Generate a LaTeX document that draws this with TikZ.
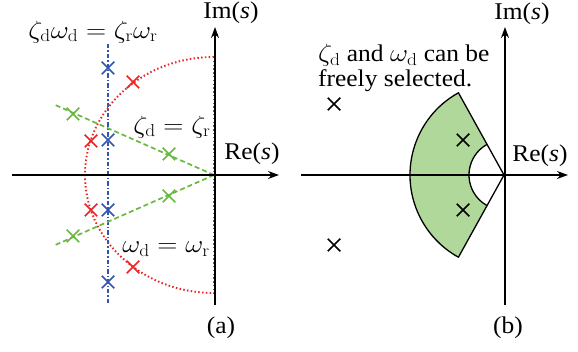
\documentclass[tikz,border=0pt]{standalone}
\usepackage[no-math]{fontspec}
\setmainfont[FakeStretch=1.06]{Liberation Serif}
\usetikzlibrary{arrows.meta,shapes.misc,calc}
\definecolor{cred}{RGB}{235,35,35}
\definecolor{cblue}{RGB}{50,85,175}
\definecolor{cgreen}{RGB}{105,185,65}
\definecolor{cfill}{RGB}{176,216,154}
\newcommand{\mth}[1]{\scalebox{1.12}[1]{\fontsize{24}{24}\selectfont$#1$}}
\begin{document}
\begin{tikzpicture}[x=1pt,y=-1pt,
  font=\fontsize{24}{24}\selectfont,
  xmark/.style={cross out, draw, minimum size=11pt, inner sep=0pt, line width=1.5pt},
  axisline/.style={line width=1.5pt, -{Stealth[length=11pt,width=8pt]}},
  reddot/.style={cred, line width=1.9pt, dash pattern=on 1.5pt off 2.3pt},
  bluedash/.style={cblue, line width=1.3pt, dash pattern=on 4.5pt off 2pt on 1.3pt off 2pt},
  greendash/.style={cgreen, line width=1.7pt, dash pattern=on 5pt off 3pt},
  lbl/.style={inner sep=0pt}]
\useasboundingbox (0,0) rectangle (578,352);
% ---------- panel (a)
\coordinate (O) at (214,175);
\coordinate (rt) at (214,57);
\coordinate (rb) at (214,293);
\draw[reddot] (rt) arc[start angle=90, end angle=270, x radius=129pt, y radius=118pt];
\draw[reddot] (rt) -- (rb);
\coordinate (bt) at (108,44);
\coordinate (bb) at (108,304);
\draw[bluedash] (bt) -- (bb);
\coordinate (g1) at (53,104);
\coordinate (g2) at (53,246);
\draw[greendash] (O) -- (g1);
\draw[greendash] (O) -- (g2);
\coordinate (ax1) at (12,175);
\coordinate (ax2) at (279,175);
\coordinate (ay1) at (215,305);
\coordinate (ay2) at (215,27);
\draw[axisline] (ax1) -- (ax2);
\draw[axisline] (ay1) -- (ay2);
\node[xmark,cred] (r1) at (133,82) {};
\node[xmark,cred] (r2) at (91,141) {};
\node[xmark,cred] (r3) at (91,210) {};
\node[xmark,cred] (r4) at (133,267) {};
\node[xmark,cblue] (b1) at (108,68) {};
\node[xmark,cblue] (b2) at (108,140) {};
\node[xmark,cblue] (b3) at (108,210) {};
\node[xmark,cblue] (b4) at (108,282) {};
\node[xmark,cgreen] (x1) at (73,114) {};
\node[xmark,cgreen] (x2) at (169,154) {};
\node[xmark,cgreen] (x3) at (73,236) {};
\node[xmark,cgreen] (x4) at (169,196) {};
\node[lbl] (la1) at (93,32) {\mth{\zeta_{\mathrm{d}}\omega_{\mathrm{d}} = \zeta_{\mathrm{r}}\omega_{\mathrm{r}}}};
\node[lbl] (la2) at (231,13) {Im(\textit{s})};
\node[lbl] (la3) at (172,127) {\mth{\zeta_{\mathrm{d}} = \zeta_{\mathrm{r}}}};
\node[lbl] (la4) at (252,154) {Re(\textit{s})};
\node[lbl] (la5) at (166,249) {\mth{\omega_{\mathrm{d}} = \omega_{\mathrm{r}}}};
\node[lbl] (la6) at (221,328) {(a)};
% ---------- panel (b)
\coordinate (P) at (504,175);
\fill[cfill] ($(P)+(119:35pt)$) -- ($(P)+(119:94pt)$)
  arc[start angle=119, end angle=241, radius=94pt]
  -- ($(P)+(241:35pt)$) arc[start angle=241, end angle=119, radius=35pt] -- cycle;
\draw[line width=1.3pt, line join=round] (P) -- ($(P)+(119:94pt)$)
  arc[start angle=119, end angle=241, radius=94pt] -- cycle;
\draw[line width=1.3pt] ($(P)+(119:35pt)$) arc[start angle=119, end angle=241, radius=35pt];
\coordinate (bx1) at (301,175);
\coordinate (bx2) at (568,175);
\coordinate (by1) at (505,305);
\coordinate (by2) at (505,27);
\draw[axisline] (bx1) -- (bx2);
\draw[axisline] (by1) -- (by2);
\node[xmark] (k1) at (334,104) {};
\node[xmark] (k2) at (463,140) {};
\node[xmark] (k3) at (463,210) {};
\node[xmark] (k4) at (334,245) {};
\node[lbl, anchor=north west, align=left] (lb1) at (318,44) {\mth{\zeta_{\mathrm{d}}} and \mth{\omega_{\mathrm{d}}} can be\\[1pt]freely selected.};
\node[lbl] (lb2) at (522,14) {Im(\textit{s})};
\node[lbl] (lb3) at (540,156) {Re(\textit{s})};
\node[lbl] (lb4) at (508,328) {(b)};
\end{tikzpicture}
\end{document}
